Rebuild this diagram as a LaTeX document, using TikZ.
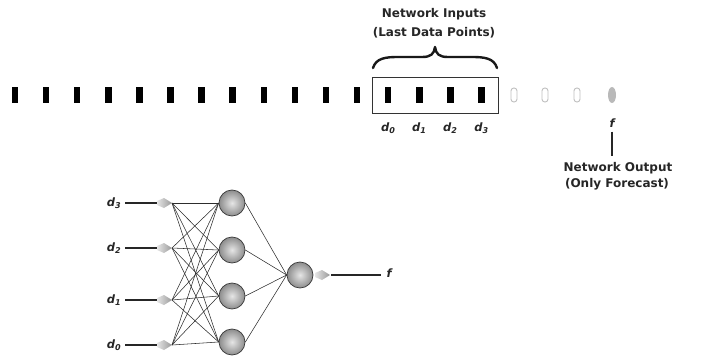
\documentclass[tikz,border=0pt]{standalone}
\usepackage{fontspec}
\setmainfont{DejaVu Sans}
\usetikzlibrary{shapes.geometric,calc}
\begin{document}
\begin{tikzpicture}[x=1pt,y=-1pt,
  lbl/.style={font=\fontsize{12}{14}\selectfont\bfseries, inner sep=0pt, text=black!85},
  dlbl/.style={font=\fontsize{11.5}{13}\selectfont\bfseries\itshape, inner sep=0pt, text=black!85},
  databar/.style={fill=black, draw=none, minimum width=6.5pt, minimum height=16pt, inner sep=0pt},
  futbar/.style={draw=gray!50, line width=0.9pt, fill=white, minimum width=6pt, minimum height=14pt, inner sep=0pt, rounded corners=2.8pt},
  fcast/.style={ellipse, fill=gray!55, draw=none, minimum width=8pt, minimum height=16pt, inner sep=0pt},
  winbox/.style={draw=black!80, line width=0.9pt, minimum width=125.5pt, minimum height=36pt, inner sep=0pt},
  neuron/.style={circle, minimum size=26pt, inner sep=0pt, draw=gray!45!black, line width=0.7pt, inner color=gray!20, outer color=gray!90},
  syn/.style={draw=gray!35!black, line width=0.55pt},
  inline/.style={draw=black!85, line width=2.6pt},
  cone/.pic={\shade[left color=gray!20, right color=gray!80] (-15,-2) -- (-8,-5) -- (0,0) -- (-8,5) -- (-15,2) -- cycle;}
]
\useasboundingbox (0,0) rectangle (702,361);

% time series
\foreach \i in {0,...,15} \node[databar] (b\i) at ({15+31.1*\i},95) {};
\node[futbar] (u1) at (514,95) {};
\node[futbar] (u2) at (545,95) {};
\node[futbar] (u3) at (577,95) {};
\node[fcast] (fc) at (612,95) {};
\node[winbox] (win) at (435.25,95) {};

\node[dlbl] (t0) at ({15+31.1*12},128) {d\textsubscript{0}};
\node[dlbl] (t1) at ({15+31.1*13},128) {d\textsubscript{1}};
\node[dlbl] (t2) at ({15+31.1*14},128) {d\textsubscript{2}};
\node[dlbl] (t3) at ({15+31.1*15},128) {d\textsubscript{3}};

% brace
\draw[line width=2.4pt, line cap=round, line join=round, black!90]
  (373,68) .. controls (376,58) and (386,57) .. (398,57) -- (422,57)
  .. controls (431,57) and (434,54) .. (435,47)
  .. controls (436,54) and (439,57) .. (448,57) -- (472,57)
  .. controls (484,57) and (494,58) .. (497,68);
\node[lbl] (ni) at (434,14) {Network Inputs};
\node[lbl] (ld) at (434,33) {(Last Data Points)};

% forecast
\node[dlbl] (f1) at (612,123) {f};
\node[lbl] (no) at (618,168) {Network Output};
\node[lbl] (of) at (617,184) {(Only Forecast)};
\draw[black!85, line width=2pt] ([yshift=-4pt]f1.south) -- (612,156);

% network
\node[dlbl] (x3) at (114,203) {d\textsubscript{3}};
\node[dlbl] (x2) at (114,248) {d\textsubscript{2}};
\node[dlbl] (x1) at (114,300) {d\textsubscript{1}};
\node[dlbl] (x0) at (114,345) {d\textsubscript{0}};
\coordinate (p3) at (172,203);
\coordinate (p2) at (172,248);
\coordinate (p1) at (172,300);
\coordinate (p0) at (172,345);
\foreach \i in {0,...,3} {
  \draw[inline, shorten <=4pt, shorten >=14pt] (x\i) -- (p\i);
  \pic at (p\i) {cone};
}
\node[neuron] (h1) at (232,203) {};
\node[neuron] (h2) at (232,250) {};
\node[neuron] (h3) at (232,296) {};
\node[neuron] (h4) at (232,342) {};
\node[neuron] (o) at (300,275) {};
\foreach \i in {0,...,3} \foreach \j in {1,...,4} \draw[syn] (p\i) -- (h\j.west);
\foreach \j in {1,...,4} \draw[syn] (h\j.east) -- (o.west);
\coordinate (oc) at (330,275);
\pic at (oc) {cone};
\node[dlbl] (f2) at (389,273) {f};
\draw[inline, shorten <=1pt, shorten >=5pt] (oc) -- (f2.west |- oc);
\end{tikzpicture}
\end{document}
